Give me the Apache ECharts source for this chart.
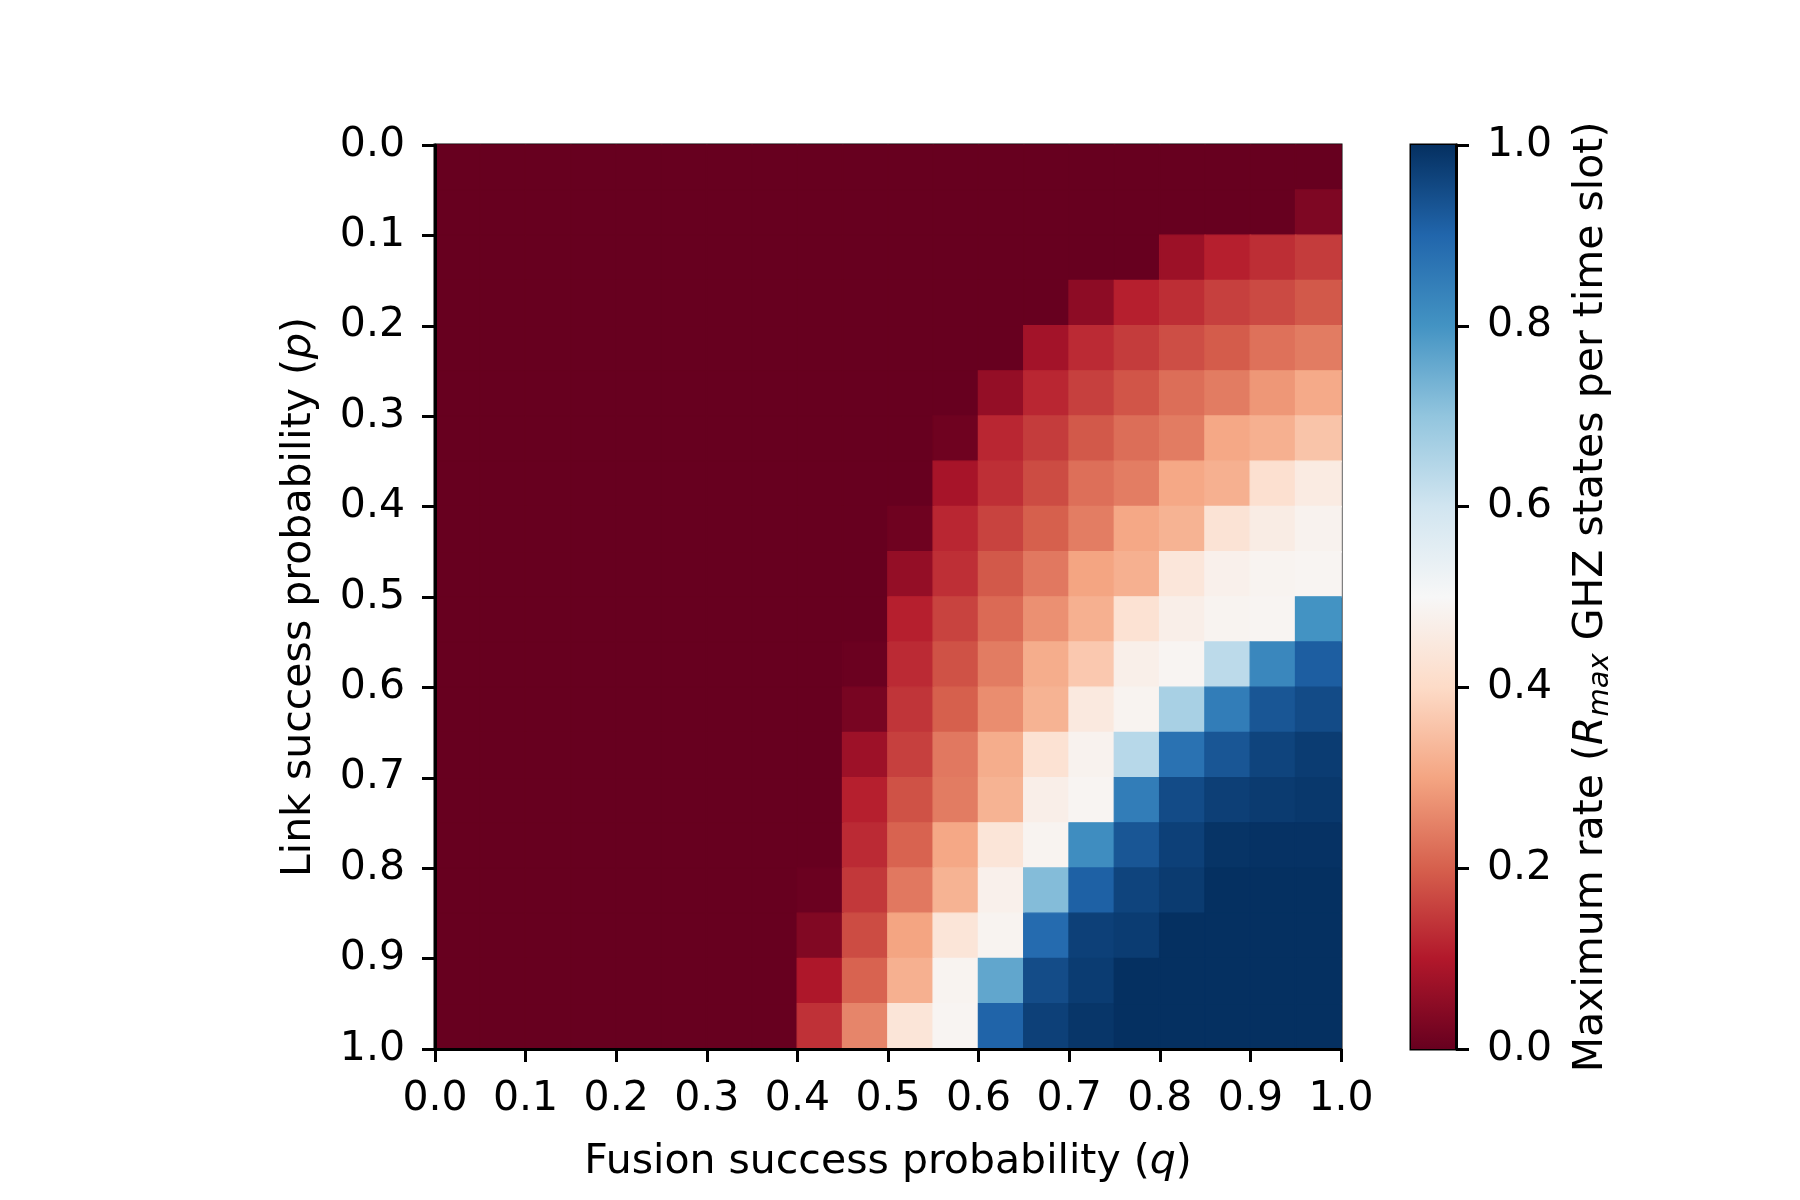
<!DOCTYPE html>
<html>
<head>
<meta charset="utf-8">
<script src="https://cdn.jsdelivr.net/npm/echarts@6/dist/echarts.min.js"></script>
<style>
  html, body { margin: 0; padding: 0; background: #ffffff; }
  #chart { width: 1800px; height: 1200px; }
</style>
</head>
<body>
<div id="chart"></div>
<script>
// Bins: fusion success probability q (columns) and link success probability p (rows), width 0.05
const qBins = ['0.00','0.05','0.10','0.15','0.20','0.25','0.30','0.35','0.40','0.45','0.50','0.55','0.60','0.65','0.70','0.75','0.80','0.85','0.90','0.95'];
const pBins = ['0.00','0.05','0.10','0.15','0.20','0.25','0.30','0.35','0.40','0.45','0.50','0.55','0.60','0.65','0.70','0.75','0.80','0.85','0.90','0.95'];

// Maximum rate per cell; one row per p bin (top to bottom), 20 q columns each
const rateRows = [
  [0,0,0,0,0,0,0,0, 0,0,0,0,0,0,0,0,0,0,0,0],
  [0,0,0,0,0,0,0,0, 0,0,0,0,0,0,0,0,0,0,0,0.03],
  [0,0,0,0,0,0,0,0, 0,0,0,0,0,0,0,0,0.07,0.11,0.13,0.15],
  [0,0,0,0,0,0,0,0, 0,0,0,0,0,0,0.05,0.11,0.13,0.155,0.17,0.19],
  [0,0,0,0,0,0,0,0, 0,0,0,0,0,0.08,0.125,0.15,0.175,0.195,0.225,0.24],
  [0,0,0,0,0,0,0,0, 0,0,0,0,0.06,0.12,0.155,0.185,0.22,0.24,0.28,0.31],
  [0,0,0,0,0,0,0,0, 0,0,0,0.01,0.12,0.15,0.19,0.22,0.24,0.306,0.32,0.357],
  [0,0,0,0,0,0,0,0, 0,0,0,0.085,0.132,0.172,0.222,0.242,0.306,0.32,0.418,0.457],
  [0,0,0,0,0,0,0,0, 0,0,0.01,0.12,0.16,0.2,0.242,0.306,0.325,0.43,0.46,0.482],
  [0,0,0,0,0,0,0,0, 0,0,0.06,0.132,0.19,0.235,0.3,0.32,0.44,0.475,0.486,0.49],
  [0,0,0,0,0,0,0,0, 0,0,0.11,0.16,0.215,0.27,0.32,0.425,0.468,0.486,0.49,0.8],
  [0,0,0,0,0,0,0,0, 0,0.005,0.125,0.18,0.24,0.315,0.365,0.47,0.49,0.633,0.827,0.915],
  [0,0,0,0,0,0,0,0, 0,0.022,0.14,0.2,0.265,0.325,0.45,0.486,0.665,0.85,0.93,0.95],
  [0,0,0,0,0,0,0,0, 0,0.072,0.155,0.235,0.315,0.425,0.482,0.641,0.873,0.93,0.963,0.978],
  [0,0,0,0,0,0,0,0, 0,0.11,0.18,0.24,0.325,0.468,0.49,0.849,0.95,0.972,0.98,0.985],
  [0,0,0,0,0,0,0,0, 0,0.125,0.205,0.306,0.435,0.486,0.813,0.93,0.97,0.993,0.996,0.996],
  [0,0,0,0,0,0,0,0, 0.005,0.145,0.235,0.325,0.475,0.718,0.909,0.963,0.98,1,1,1],
  [0,0,0,0,0,0,0,0, 0.035,0.172,0.3,0.435,0.486,0.889,0.97,0.978,1,1,1,1],
  [0,0,0,0,0,0,0,0, 0.095,0.205,0.32,0.486,0.762,0.948,0.978,1,1,1,1,1],
  [0,0,0,0,0,0,0,0, 0.135,0.254,0.435,0.49,0.904,0.97,0.989,1,1,1,1,1]
];

// Tick settings
const axisTicks = { min: 0, max: 1, interval: 0.1 };
const colorbarTicks = { min: 0, max: 1, interval: 0.2 };

// RdBu colormap stops (0 -> 1)
const rdbu = ['#67001f','#b2182b','#d6604d','#f4a582','#fddbc7','#f7f7f7','#d1e5f0','#92c5de','#4393c3','#2166ac','#053061'];

const FONT = 'DejaVu Sans';
const FS = 41;

// Build heatmap items; border drawn in the cell's own colour to hide anti-aliasing seams
const heatData = [];
rateRows.forEach(function (row, yi) {
  row.forEach(function (v, xi) {
    heatData.push({
      value: [xi, yi, v],
      itemStyle: { borderColor: echarts.color.lerp(v, rdbu), borderWidth: 1.2 }
    });
  });
});

const chart = echarts.init(document.getElementById('chart'), null, { renderer: 'canvas' });

const tickStyle = { show: true, inside: false, length: 13, lineStyle: { color: '#000', width: 3 } };
const lineStyle = { show: true, lineStyle: { color: '#000', width: 3 } };
const labelStyle = { color: '#000', fontSize: FS, fontFamily: FONT };

const option = {
  backgroundColor: '#ffffff',
  animation: false,
  grid: [
    { left: 435, top: 145, width: 906, height: 904, show: true, borderColor: '#000', borderWidth: 3, backgroundColor: 'transparent' },
    { left: 1411, top: 145, width: 45, height: 904, show: true, borderColor: '#000', borderWidth: 3, backgroundColor: 'transparent' }
  ],
  xAxis: [
    { type: 'category', gridIndex: 0, data: qBins, show: false },
    {
      type: 'value', gridIndex: 0, position: 'bottom', z: 5,
      min: axisTicks.min, max: axisTicks.max, interval: axisTicks.interval,
      axisLine: lineStyle, axisTick: tickStyle, splitLine: { show: false },
      axisLabel: Object.assign({ margin: 30, formatter: function (v) { return v.toFixed(1); } }, labelStyle),
      name: 'Fusion success probability ({i|q})',
      nameLocation: 'middle', nameGap: 93,
      nameTextStyle: { color: '#000', fontSize: FS, fontFamily: FONT,
        rich: { i: { fontStyle: 'italic', fontSize: FS, fontFamily: FONT, color: '#000' } } }
    },
    { type: 'category', gridIndex: 1, data: ['bar'], show: false }
  ],
  yAxis: [
    { type: 'category', gridIndex: 0, data: pBins, inverse: true, show: false },
    {
      type: 'value', gridIndex: 0, position: 'left', inverse: true, z: 5,
      min: axisTicks.min, max: axisTicks.max, interval: axisTicks.interval,
      axisLine: lineStyle, axisTick: tickStyle, splitLine: { show: false },
      axisLabel: Object.assign({ margin: 30, formatter: function (v) { return v.toFixed(1); } }, labelStyle),
      name: 'Link success probability ({i|p})',
      nameLocation: 'middle', nameRotate: 90, nameGap: 115,
      nameTextStyle: { color: '#000', fontSize: FS, fontFamily: FONT,
        rich: { i: { fontStyle: 'italic', fontSize: FS, fontFamily: FONT, color: '#000' } } }
    },
    {
      type: 'value', gridIndex: 1, position: 'right', z: 5,
      min: colorbarTicks.min, max: colorbarTicks.max, interval: colorbarTicks.interval,
      axisLine: lineStyle, axisTick: tickStyle, splitLine: { show: false },
      axisLabel: Object.assign({ margin: 31, formatter: function (v) { return v.toFixed(1); } }, labelStyle)
    }
  ],
  visualMap: {
    show: false, type: 'continuous', min: 0, max: 1, dimension: 2, seriesIndex: 0,
    inRange: { color: rdbu }
  },
  graphic: [
    {
      type: 'text', x: 1591, y: 597, rotation: Math.PI / 2,
      style: {
        text: 'Maximum rate ({i|R}{s|max} GHZ states per time slot)',
        fontSize: FS, fontFamily: FONT, fill: '#000', align: 'center', verticalAlign: 'middle',
        lineHeight: 48,
        rich: {
          i: { fontStyle: 'italic', fontSize: FS, fontFamily: FONT, fill: '#000', lineHeight: 48 },
          s: { fontStyle: 'italic', fontSize: 29, fontFamily: FONT, fill: '#000', lineHeight: 29, verticalAlign: 'bottom' }
        }
      }
    }
  ],
  series: [
    {
      type: 'heatmap', xAxisIndex: 0, yAxisIndex: 0, data: heatData,
      emphasis: { disabled: true }, silent: true, z: 1
    },
    {
      type: 'bar', xAxisIndex: 2, yAxisIndex: 2, data: [1], barWidth: '100%', silent: true,
      itemStyle: {
        color: new echarts.graphic.LinearGradient(0, 1, 0, 0,
          rdbu.map(function (c, i) { return { offset: i / (rdbu.length - 1), color: c }; }))
      }
    }
  ]
};

chart.setOption(option);
</script>
</body>
</html>
